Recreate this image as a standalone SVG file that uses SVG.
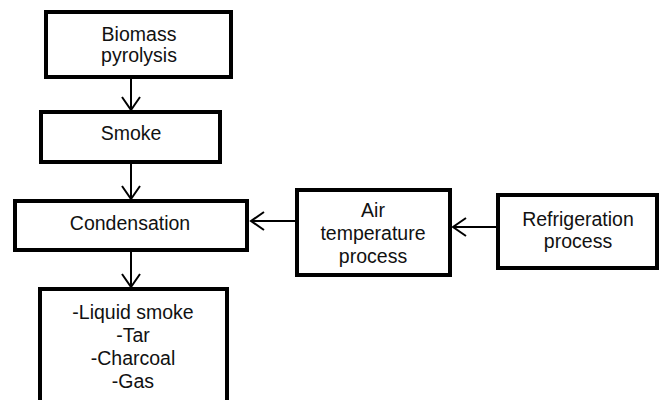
<svg xmlns="http://www.w3.org/2000/svg" width="661" height="400" viewBox="0 0 661 400">
<style>
.box{fill:#fff;stroke:#000;stroke-width:4}
.t{font-family:"Liberation Sans",Arial,sans-serif;font-size:19.5px;fill:#111;text-anchor:middle}
.c{stroke:#000;stroke-width:2;fill:none}
</style>
<defs>
<marker id="ah" markerWidth="16" markerHeight="22" refX="14" refY="11" orient="auto" markerUnits="userSpaceOnUse">
<path d="M1,2 L14,11 L1,20" fill="none" stroke="#000" stroke-width="2"/>
</marker>
</defs>
<rect width="661" height="400" fill="#fff"/>
<g id="connectors">
<line class="c" x1="131" y1="79" x2="131" y2="110" marker-end="url(#ah)"/>
<line class="c" x1="131" y1="164" x2="131" y2="199" marker-end="url(#ah)"/>
<line class="c" x1="131" y1="252" x2="131" y2="287" marker-end="url(#ah)"/>
<line class="c" x1="295" y1="221" x2="251" y2="221" marker-end="url(#ah)"/>
<line class="c" x1="496" y1="227" x2="453" y2="227" marker-end="url(#ah)"/>
</g>
<g id="biomass">
<rect class="box" x="46" y="12" width="185" height="65"/>
<text class="t" x="139" y="41">Biomass</text>
<text class="t" x="139" y="62">pyrolysis</text>
</g>
<g id="smoke">
<rect class="box" x="41" y="112" width="179" height="50"/>
<text class="t" x="131" y="140">Smoke</text>
</g>
<g id="condensation">
<rect class="box" x="15" y="201" width="232" height="49"/>
<text class="t" x="130" y="230">Condensation</text>
</g>
<g id="products">
<rect class="box" x="40" y="289" width="187" height="200"/>
<text class="t" x="133" y="319">-Liquid smoke</text>
<text class="t" x="133" y="342">-Tar</text>
<text class="t" x="133" y="365">-Charcoal</text>
<text class="t" x="133" y="388">-Gas</text>
</g>
<g id="air">
<rect class="box" x="297" y="190" width="153" height="85"/>
<text class="t" x="373" y="217">Air</text>
<text class="t" x="373" y="240">temperature</text>
<text class="t" x="373" y="263">process</text>
</g>
<g id="refrigeration">
<rect class="box" x="498" y="195" width="159" height="73"/>
<text class="t" x="578" y="226">Refrigeration</text>
<text class="t" x="578" y="248">process</text>
</g>
</svg>
